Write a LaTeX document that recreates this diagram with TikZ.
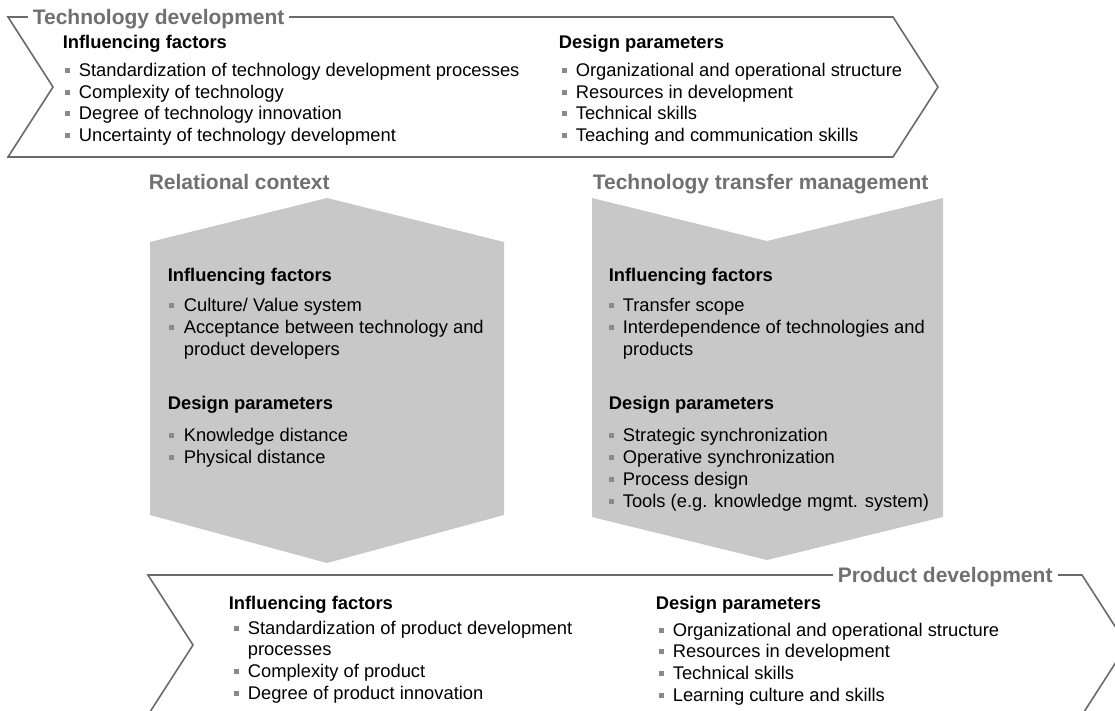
\documentclass[tikz,border=0pt]{standalone}
\usepackage{fontspec}
\setmainfont{Liberation Sans}
\usetikzlibrary{positioning}
\definecolor{cline}{HTML}{6A6A6A}
\definecolor{ctitle}{HTML}{707070}
\definecolor{cfill}{HTML}{C8C8C8}
\definecolor{cbul}{HTML}{8A8A8A}
\tikzset{
  every picture/.style={line width=1.6pt},
  chev/.style={draw=cline, line join=miter},
  slab/.style={fill=cfill, draw=none},
  title/.style={font=\fontsize{21}{25}\selectfont\bfseries, text=ctitle, anchor=base west, fill=white, inner xsep=5pt, inner ysep=0pt},
  head/.style={font=\fontsize{18.35}{22}\selectfont\bfseries, anchor=base west, inner sep=0pt},
  item/.style={font=\fontsize{18.35}{22}\selectfont, anchor=base west, inner sep=0pt},
  bul/.style={fill=cbul, minimum size=5pt, inner sep=0pt},
}

\begin{document}
\begin{tikzpicture}[x=1pt, y=-1pt]
  \useasboundingbox (0,0) rectangle (1115,711);
  \clip (0,0) rectangle (1115,711);
  % technology development
  \draw[chev] (8,17) -- (893,17) -- (938,87) -- (893,157) -- (8,157) -- (53,87) -- cycle;
  \node[title] (td) at (27,25) {Technology development};
  \node[head] (tdIF) at (62,49) {Influencing factors};
  \foreach[count=\i] \t in {Standardization of technology development processes, Complexity of technology,
     Degree of technology innovation, Uncertainty of technology development} {
    \node[item] (tdIF\i) at (78,{77+21.4*(\i-1)}) {\t};
    \node[bul] (tdIFb\i) at (67,{71+21.4*(\i-1)}) {};
  }
  \node[head] (tdDP) at (558,49) {Design parameters};
  \foreach[count=\i] \t in {Organizational and operational structure, Resources in development,
     Technical skills, Teaching and communication skills} {
    \node[item] (tdDP\i) at (575,{77+21.4*(\i-1)}) {\t};
    \node[bul] (tdDPb\i) at (564,{71+21.4*(\i-1)}) {};
  }
  % relational context
  \fill[slab] (150,242) -- (327,198) -- (504,242) -- (504,515) -- (327,563) -- (150,515) -- cycle;
  \node[title] (rc) at (143,190) {Relational context};
  \node[head] (rcIF) at (167,281) {Influencing factors};
  \foreach[count=\i] \b/\t in {1/{Culture/ Value system}, 1/Acceptance between technology and, 0/product developers} {
    \node[item] (rcIF\i) at (183,{311+22*(\i-1)}) {\t};
    \ifnum\b=1 \node[bul] (rcIFb\i) at (171,{305+22*(\i-1)}) {}; \fi
  }
  \node[head] (rcDP) at (167,409) {Design parameters};
  \foreach[count=\i] \t in {Knowledge distance, Physical distance} {
    \node[item] (rcDP\i) at (183,{441+22*(\i-1)}) {\t};
    \node[bul] (rcDPb\i) at (171,{435+22*(\i-1)}) {};
  }
  % technology transfer management
  \fill[slab] (592,198) -- (767,241) -- (943,198) -- (943,517) -- (767,560) -- (592,517) -- cycle;
  \node[title] (ttm) at (587,190) {Technology transfer management};
  \node[head] (ttmIF) at (608,281) {Influencing factors};
  \foreach[count=\i] \b/\t in {1/Transfer scope, 1/Interdependence of technologies and, 0/products} {
    \node[item] (ttmIF\i) at (622,{311+22*(\i-1)}) {\t};
    \ifnum\b=1 \node[bul] (ttmIFb\i) at (611,{305+22*(\i-1)}) {}; \fi
  }
  \node[head] (ttmDP) at (608,409) {Design parameters};
  \foreach[count=\i] \t in {Strategic synchronization, Operative synchronization, Process design,
     Tools (e.g. knowledge mgmt. system)} {
    \node[item] (ttmDP\i) at (622,{441+22*(\i-1)}) {\t};
    \node[bul] (ttmDPb\i) at (611,{435+22*(\i-1)}) {};
  }
  % product development
  \draw[chev] (148,575) -- (1082,575) -- (1127,645) -- (1082,715) -- (148,715) -- (193,645) -- cycle;
  \node[title] (pd) at (832,582) {Product development};
  \node[head] (pdIF) at (228,609) {Influencing factors};
  \foreach[count=\i] \b/\t in {1/Standardization of product development, 0/processes,
     1/Complexity of product, 1/Degree of product innovation} {
    \node[item] (pdIF\i) at (247,{634+21.7*(\i-1)}) {\t};
    \ifnum\b=1 \node[bul] (pdIFb\i) at (236,{628+21.7*(\i-1)}) {}; \fi
  }
  \node[head] (pdDP) at (655,609) {Design parameters};
  \foreach[count=\i] \t in {Organizational and operational structure, Resources in development,
     Technical skills, Learning culture and skills} {
    \node[item] (pdDP\i) at (672,{636+21.7*(\i-1)}) {\t};
    \node[bul] (pdDPb\i) at (661,{630+21.7*(\i-1)}) {};
  }
\end{tikzpicture}
\end{document}
